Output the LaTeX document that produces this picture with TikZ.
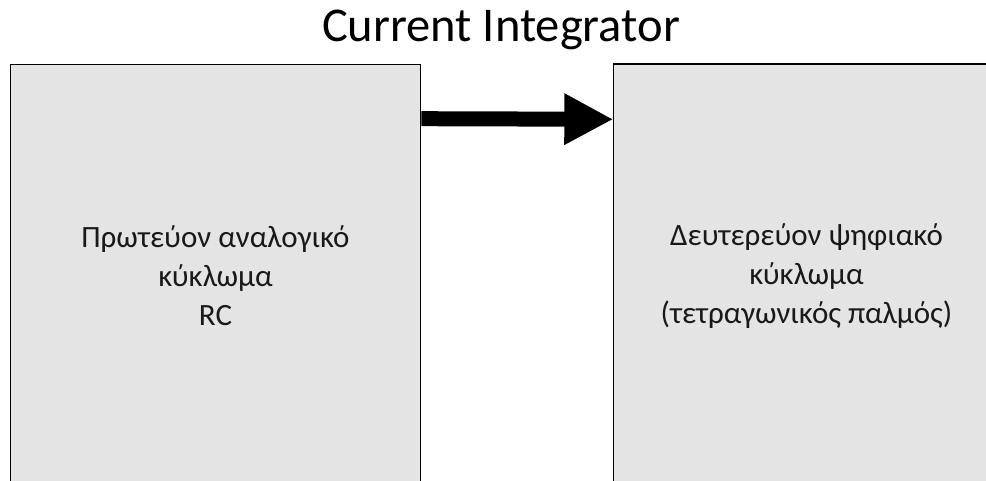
\documentclass[tikz,border=0pt]{standalone}
\usepackage{fontspec}
\setmainfont{Carlito}
\usetikzlibrary{arrows.meta, positioning}
\definecolor{boxgray}{HTML}{E4E4E4}

\begin{document}
\begin{tikzpicture}[
  x=1pt, y=1pt,
  block/.style={rectangle, fill=boxgray, minimum height=423pt},
  edge/.style={draw=black, line width=1.6pt},
  blocktext/.style={align=center, text=black!90, font=\fontsize{31}{39}\selectfont},
  title/.style={anchor=base, font=\fontsize{48.5}{58}\selectfont},
  bigarrow/.style={-{Triangle[length=49pt, width=48pt]}, line width=15pt, draw=black}
]
  \useasboundingbox (0,0) rectangle (986,-481);

  \node[title] (head) at (501,-42) {Current Integrator};
  \node[block, edge, blocktext, minimum width=410pt] (analog) at (215.5,-276) {Πρωτεύον αναλογικό\\κύκλωμα\\RC};
  % right block runs off the page, so its text is set as a label
  \node[block, minimum width=440pt, right=192pt of analog,
        label={[blocktext, xshift=-27pt]center:Δευτερεύον ψηφιακό\\κύκλωμα\\(τετραγωνικός παλμός)}] (digital) {};
  \draw[edge] (digital.south west) -- (digital.north west) -- (digital.north east);

  \draw[bigarrow] ([yshift=-55pt]analog.north east) -- ([yshift=-55pt]digital.north west);
\end{tikzpicture}
\end{document}
